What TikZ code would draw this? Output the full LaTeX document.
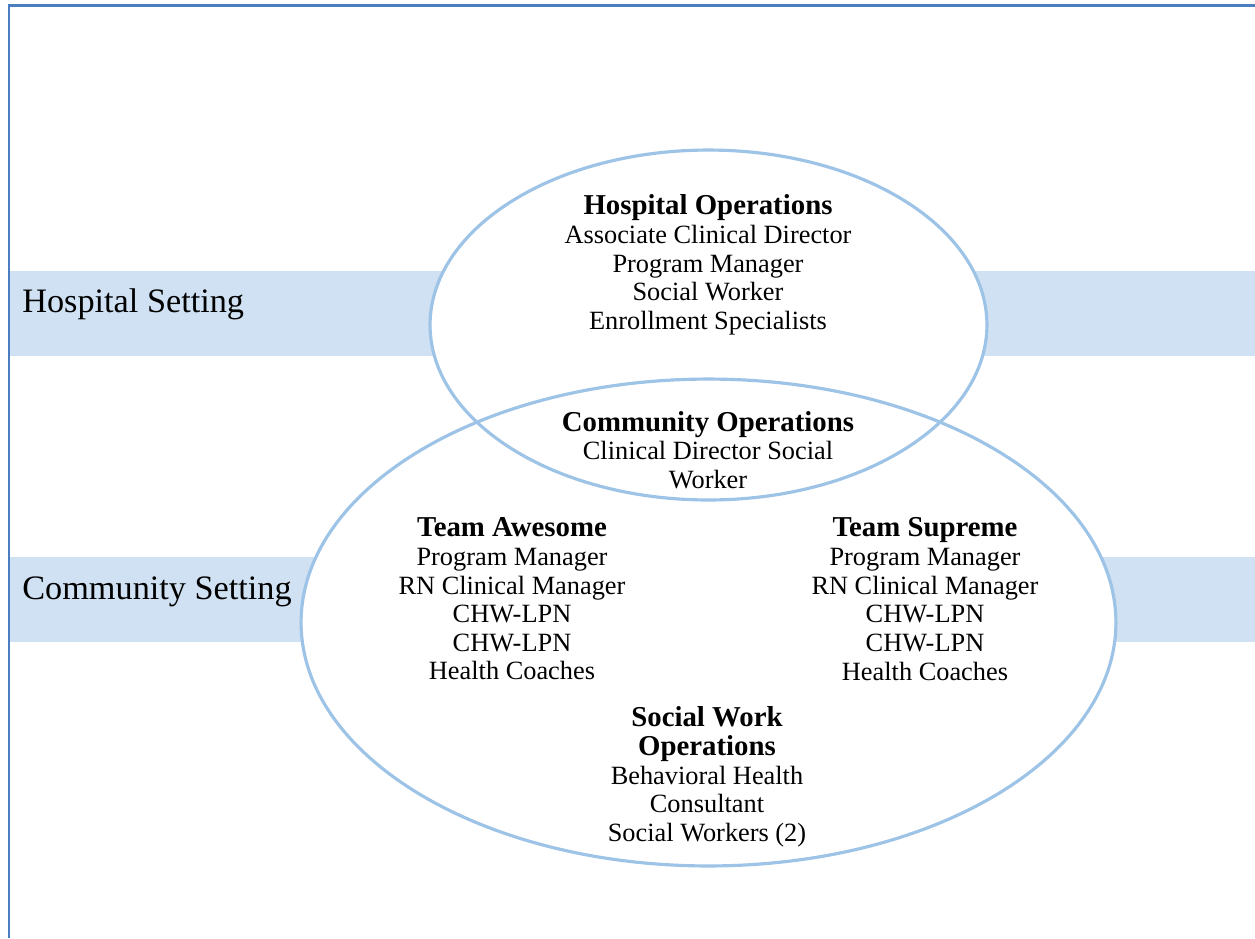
\documentclass[tikz,border=0pt]{standalone}
\usepackage{fontspec}
\setmainfont{Liberation Serif}
\usepackage{xcolor}
\usepackage{tikz}
\usetikzlibrary{positioning}

\definecolor{bandblue}{HTML}{CFE1F2}
\definecolor{ringblue}{HTML}{9DC3E6}
\definecolor{frameblue}{HTML}{4A7EC0}

\newcommand{\grouphead}[1]{{\fontsize{16.4}{16.3}\selectfont\bfseries #1}}

\begin{document}
\begin{tikzpicture}[x=0.02cm, y=-0.02cm,
    setting/.style={anchor=base west, inner sep=0pt, font=\fontsize{19.5}{22}\selectfont},
    staff/.style={align=center, inner sep=0pt, font=\fontsize{15}{16.3}\selectfont},
    ring/.style={draw=ringblue, line width=1.8pt}]
          \useasboundingbox (0,0) rectangle (1255,938);

          % Frame
          \draw[frameblue, line width=1.3pt] (9,938) -- (9,5.5) -- (1255,5.5);

          % Setting bands
          \fill[bandblue] (10,271) rectangle (1255,356);
          \fill[bandblue] (10,557) rectangle (1255,642);
          \node[setting] (hosplabel) at (22,312) {Hospital Setting};
          \node[setting] (commlabel) at (22,599) {Community Setting};

          % Overlapping ellipses
          \fill[white] (708.5,622.5) ellipse [x radius=8.15cm, y radius=4.87cm];
          \fill[white] (708.5,325) ellipse [x radius=5.57cm, y radius=3.5cm];
          \draw[ring] (708.5,622.5) ellipse [x radius=8.15cm, y radius=4.87cm];
          \draw[ring] (708.5,325) ellipse [x radius=5.57cm, y radius=3.5cm];

          % Hospital side
          \node[staff] (hospops) at (708,265) {\grouphead{Hospital Operations}\\Associate Clinical Director\\Program Manager\\Social Worker\\Enrollment Specialists};
          \node[staff] (commops) at (708,450) {\grouphead{Community Operations}\\Clinical Director Social\\Worker};

          % Community side
          \node[staff] (awesome) at (512,599) {\grouphead{Team Awesome}\\Program Manager\\RN Clinical Manager\\CHW-LPN\\CHW-LPN\\Health Coaches};
          \node[staff] (supreme) at (925,599) {\grouphead{Team Supreme}\\Program Manager\\RN Clinical Manager\\CHW-LPN\\CHW-LPN\\Health Coaches};
          \node[staff] (socialwork) at (707,777) {\grouphead{Social Work}\\\grouphead{Operations}\\Behavioral Health\\Consultant\\Social Workers (2)};
        \end{tikzpicture}
\end{document}
